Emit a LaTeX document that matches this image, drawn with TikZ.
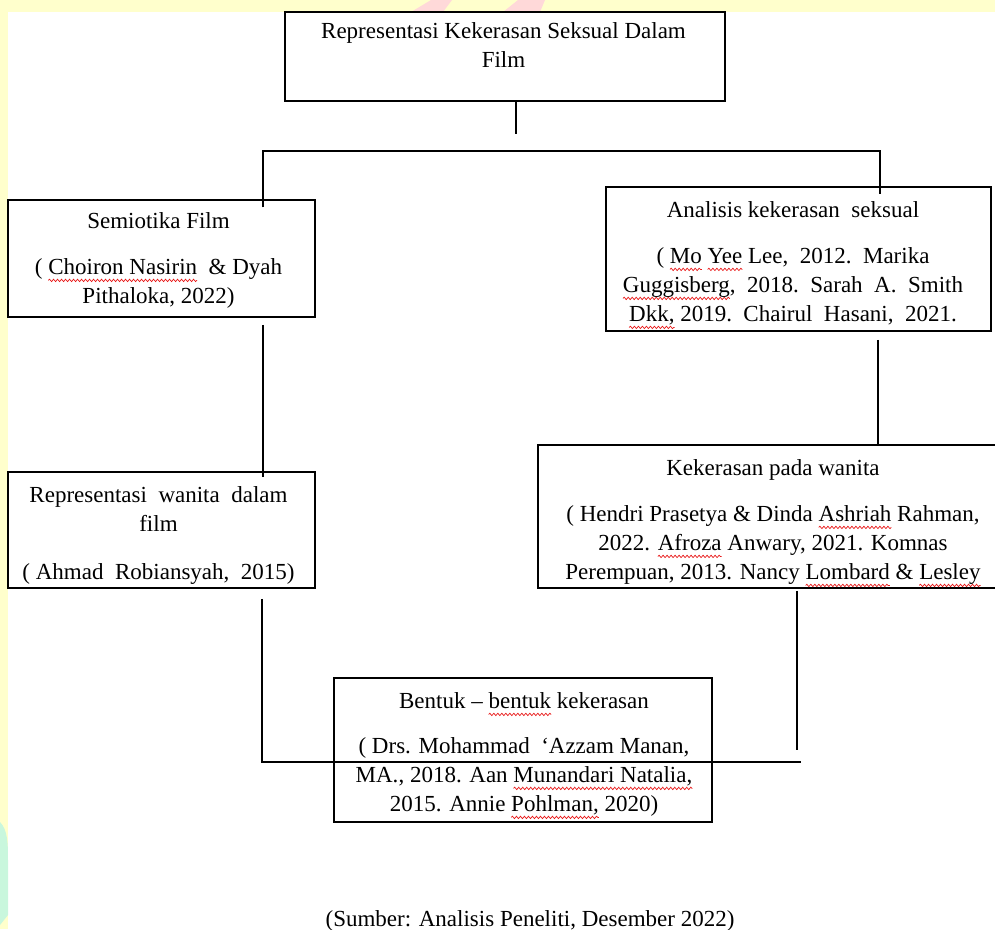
\documentclass[tikz,border=0pt]{standalone}
\usepackage{fontspec}
\setmainfont{Liberation Serif}
\usetikzlibrary{positioning, decorations.pathmorphing}

\definecolor{wmkuning}{HTML}{FFFFCC}
\definecolor{wmmerah}{HTML}{FFD9D9}
\definecolor{wmhijau}{HTML}{C9F7DD}
\definecolor{salah}{HTML}{E81818}

% garis bergelombang merah (tanda ejaan)
\newsavebox\kata
\newcommand\ejaan[1]{\sbox\kata{#1}\rlap{\tikz[overlay, x=1pt, y=1pt]
  \draw[salah, line width=0.7pt, decorate, decoration={snake, amplitude=1.2pt, segment length=4pt}]
  (0pt,-6pt) -- (\wd\kata,-6pt);}\usebox\kata}

\tikzset{
  kotak/.style={draw, line width=1.5pt, inner sep=0pt},
  isi/.style={anchor=north, align=center, inner sep=0pt, font=\fontsize{23}{29}\selectfont},
  garis/.style={line width=1.5pt}
}

\begin{document}
\begin{tikzpicture}[x=1pt, y=-1pt]

            \useasboundingbox (0,0) rectangle (995,929);

            % latar (tanda air)
            \fill[wmkuning] (0,0) rectangle (995,12);
            \fill[wmkuning] (0,0) rectangle (8,929);
            \fill[wmmerah] (411,12) -- (431,0) -- (452,0) -- (443,12) -- cycle;
            \fill[wmmerah] (503,12) -- (518,0) -- (545,0) -- (540,12) -- cycle;
            \fill[wmhijau] (0,822) .. controls (8,830) and (8,845) .. (8,860) -- (8,915) .. controls (4,920) .. (0,925) -- cycle;

            % kotak
            \node[kotak, minimum width=440pt, minimum height=89pt] (judul) at (505,56.5) {};
            \node[kotak, minimum width=307pt, minimum height=117pt] (semiotika) at (161.5,258.5) {};
            \node[kotak, minimum width=385pt, minimum height=144pt] (analisis) at (798.5,259) {};
            \node[kotak, minimum width=307pt, minimum height=116pt] (repwanita) at (161.5,530) {};
            \node[kotak, minimum width=470pt, minimum height=143pt] (kekerasan) at (773,516.5) {};
            \node[kotak, minimum width=378pt, minimum height=144pt] (bentuk) at (523,750) {};

            % isi kotak
            \node[isi] (tjudul) at ([yshift=-11pt, xshift=-1.5pt]judul.north)
                {Representasi Kekerasan Seksual Dalam\\Film};
            \node[isi] (tsemiotika) at ([yshift=-13pt, xshift=-3pt]semiotika.north)
                {Semiotika Film\\[17pt]( \ejaan{Choiron Nasirin}\ \ \& Dyah\\Pithaloka, 2022)};
            \node[isi] (tanalisis) at ([yshift=-15pt, xshift=-5.5pt]analisis.north)
                {Analisis kekerasan\ \ seksual\\[17pt]( \ejaan{Mo} \ejaan{Yee} Lee,\ \ 2012.\ \ Marika\\
                 \ejaan{Guggisberg},\ \ 2018.\ \ Sarah\ \ A.\ \ Smith\\
                 \ejaan{Dkk,} 2019.\ \ Chairul\ \ Hasani,\ \ 2021.};
            \node[isi] (trepwanita) at ([yshift=-15pt, xshift=-3pt]repwanita.north)
                {Representasi\ \ wanita\ \ dalam\\film\\[19pt]( Ahmad\ \ Robiansyah,\ \ 2015)};
            \node[isi] (tkekerasan) at ([yshift=-15pt]kekerasan.north)
                {Kekerasan pada wanita\\[17pt]( Hendri Prasetya \& Dinda \ejaan{Ashriah} Rahman,\\
                 2022. \ejaan{Afroza} Anwary, 2021. Komnas\\
                 Perempuan, 2013. Nancy \ejaan{Lombard} \& \ejaan{Lesley}};
            \node[isi] (tbentuk) at ([yshift=-15pt, xshift=1pt]bentuk.north)
                {Bentuk -- \ejaan{bentuk} kekerasan\\[16pt]( Drs. Mohammad\ \ `Azzam Manan,\\
                 MA., 2018. Aan \ejaan{Munandari Natalia,}\\
                 2015. Annie \ejaan{Pohlman,} 2020)};

            % sumber
            \node[anchor=base, inner sep=0pt, font=\fontsize{23}{29}\selectfont] (sumber) at (530,926)
                {(Sumber: Analisis Peneliti, Desember 2022)};

            % garis penghubung
            \coordinate (cabangL) at (263,151);
            \coordinate (cabangR) at (880,151);
            \coordinate (tengahR) at (878,400);
            \coordinate (bawahL) at (262,762);
            \coordinate (bawahR) at (801,762);
            \coordinate (kananB) at (797,750);

            \draw[garis] ([xshift=11pt]judul.south) -- ++(0,32);
            \draw[garis] ([yshift=-8pt]cabangL |- semiotika.north) -- (cabangL) -- (cabangR)
                -- ([yshift=-8pt]cabangR |- analisis.north);
            \draw[garis] ([yshift=-7pt]cabangL |- semiotika.south) -- ([yshift=-6pt]cabangL |- repwanita.north);
            \draw[garis] ([yshift=-8pt]tengahR |- analisis.south) -- (tengahR |- kekerasan.north);
            \draw[garis] ([yshift=-10pt]bawahL |- repwanita.south) -- (bawahL) -- (bawahR);
            \draw[garis] ([yshift=-2pt]kananB |- kekerasan.south) -- (kananB);

\end{tikzpicture}
\end{document}
